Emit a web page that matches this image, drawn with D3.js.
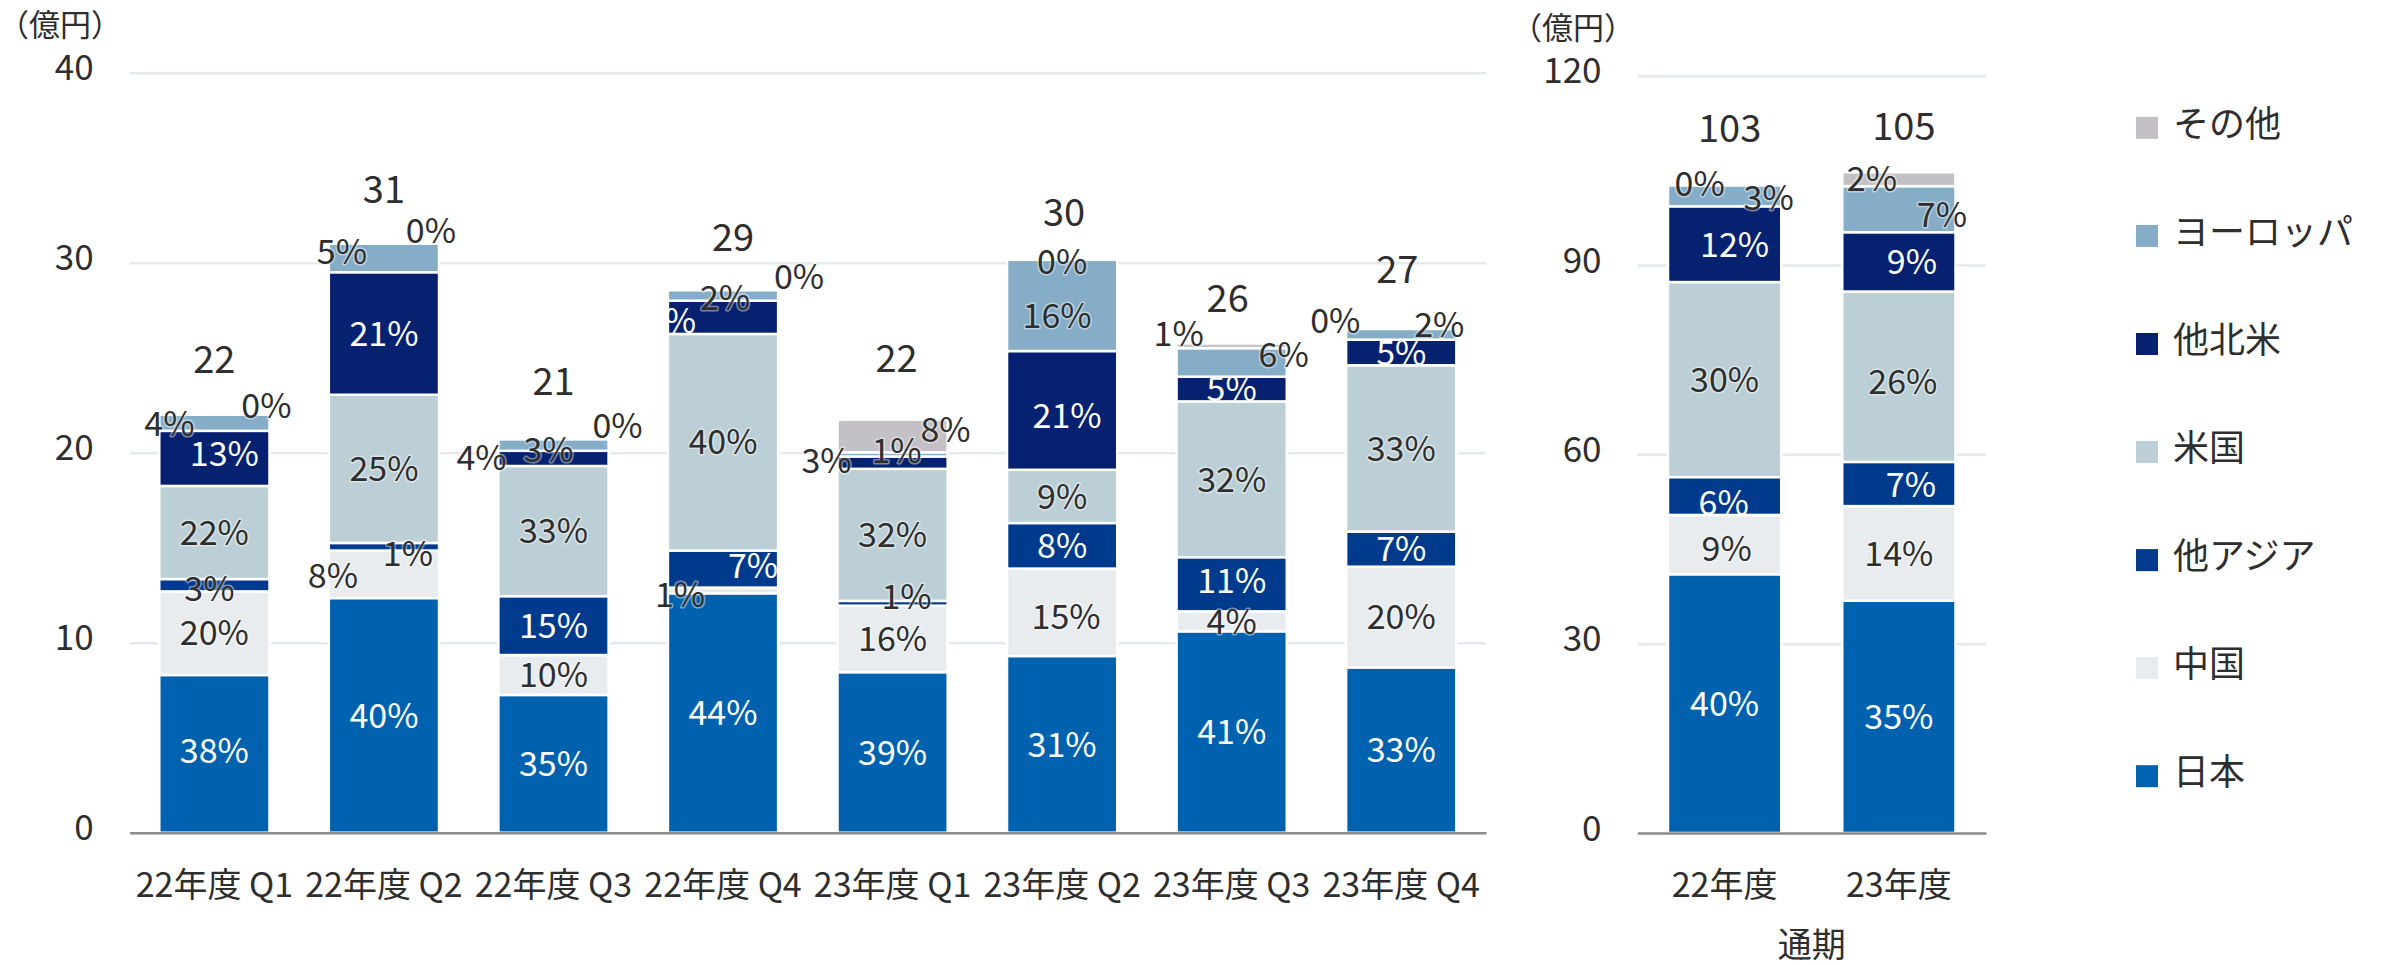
<!DOCTYPE html>
<html><head><meta charset="utf-8">
<script src="https://cdn.jsdelivr.net/npm/d3@7"></script>
<style>
html,body{margin:0;padding:0;background:#fff;}
svg{display:block;font-family:"Noto Sans CJK JP","Noto Sans",sans-serif;}
</style></head><body>
<svg id="chart" width="2389" height="964"></svg>
<script>
// ---------- DATA ----------
const regions = ["日本","中国","他アジア","米国","他北米","ヨーロッパ","その他"];
const regionColors = ["#0062AF","#E8ECEF","#003A8C","#BCCFD6","#05216F","#85ADC8","#C3C1C6"];

const quarterCats = ["22年度 Q1","22年度 Q2","22年度 Q3","22年度 Q4","23年度 Q1","23年度 Q2","23年度 Q3","23年度 Q4"];
const qJapan     = [8.3, 12.35, 7.25, 12.6, 8.45, 9.3, 10.6, 8.7];
const qChina     = [4.4, 2.5, 2.1, 0.3, 3.5, 4.6, 1.05, 5.3];
const qOtherAsia = [0.65, 0.4, 3.1, 1.95, 0.25, 2.4, 2.85, 1.85];
const qUS        = [4.9, 7.8, 6.85, 11.4, 6.95, 2.8, 8.2, 8.75];
const qOtherNA   = [2.9, 6.45, 0.8, 1.75, 0.65, 6.25, 1.3, 1.35];
const qEurope    = [0.85, 1.5, 0.6, 0.55, 0.22, 4.8, 1.5, 0.56];
const qOther     = [0, 0, 0, 0, 1.72, 0, 0.25, 0];

const fyCats      = ["22年度","23年度"];
const fyJapan     = [41.0, 36.8];
const fyChina     = [9.4, 15.0];
const fyOtherAsia = [6.0, 7.0];
const fyUS        = [30.9, 27.0];
const fyOtherNA   = [12.0, 9.4];
const fyEurope    = [3.3, 7.3];
const fyOther     = [0, 2.2];

const qTicks  = [0, 10, 20, 30, 40];
const fyTicks = [0, 30, 60, 90, 120];
const unitLabel = "（億円）";
const fyAxisTitle = "通期";

// ---------- LABEL LAYOUT (manual nudges, px) ----------
const qLabelNudge = {
 "0-0":[0,-3],"0-2":[-5,4],"0-4":[10,-5],"0-5":[-45,1],"0-6":[52,-9],
 "1-1":[-51,1],"1-2":[24,7],"1-5":[-42,-6],"1-6":[47,-13],
 "2-4":[-72,-1],"2-5":[-5,5],"2-6":[64,-14],
 "3-1":[-43,4],"3-2":[30,-3],"3-4":[-52,3],"3-5":[2,2],"3-6":[76,-13],
 "4-2":[14,-7],"4-4":[-66,-2],"4-5":[4,-4],"4-6":[53,-6],
 "5-1":[4,4],"5-4":[5,5],"5-5":[-5,10],"5-6":[0,2],
 "6-2":[0,-4],"6-5":[52,-8],"6-6":[-53,-12],
 "7-5":[38,-10],"7-6":[-66,-8]
};
const qTotalNudge = [[0,0],[0,1],[0,-3],[10,2],[4,-6],[2,7],[-4,10],[-4,-5]];
const fyLabelNudge = {"0-1":[2,4],"0-2":[-1,7],"0-4":[10,1],"0-5":[44,2],"0-6":[-25,-2],
 "1-2":[12,1],"1-3":[4,5],"1-4":[13,0],"1-5":[43,6],"1-6":[-27,0]};
const fyTotalNudge = [[5,-2],[5,9]];

// ---------- BUILD ----------
const svg = d3.select("#chart");
const TEXT = "#2e2e2e";
const darkSeries = new Set(["日本","他アジア","他北米"]);

function rowsFrom(cats, arrs){
  return cats.map((c,i)=>{
    const r = {cat:c};
    regions.forEach((k,j)=>{ r[k] = arrs[j][i]; });
    r.total = d3.sum(regions, k=>r[k]);
    return r;
  });
}

function halo(sel){
  return sel.attr("stroke","#ffffff").attr("stroke-opacity",0.45).attr("stroke-width",3)
    .attr("paint-order","stroke").attr("stroke-linejoin","round");
}

function drawPanel(opts){
  const {rows, cats, x0, x1, yTop, yBottom, ticks, labelNudge, totalNudge, unitX} = opts;
  const g = svg.append("g");
  const x = d3.scaleBand().domain(cats).range([x0, x1]).paddingInner(0.35).paddingOuter(0.175);
  const y = d3.scaleLinear().domain([ticks[0], ticks[ticks.length-1]]).range([yBottom, yTop]);

  // gridlines + tick labels
  const ya = g.append("g").attr("transform",`translate(${x0},0)`)
    .call(d3.axisLeft(y).tickValues(ticks).tickSize(-(x1-x0)).tickPadding(36));
  ya.select(".domain").remove();
  ya.selectAll(".tick line").attr("stroke","#E6EAEE").attr("stroke-width",2.5);
  ya.selectAll(".tick text").attr("fill",TEXT).attr("font-size",35)
    .attr("dy","0.2em").attr("font-family",'"Noto Sans CJK JP",sans-serif');

  // unit label
  g.append("text").attr("x",unitX).attr("y",yTop-48).attr("text-anchor","middle")
    .attr("dy","0.35em").attr("font-size",31).attr("fill",TEXT).text(unitLabel);

  const stacked = d3.stack().keys(regions)(rows);
  const bw = x.bandwidth();

  stacked.forEach((s,si)=>{
    g.append("g").selectAll("rect").data(s.filter(d=>d[1]-d[0]>0)).join("rect")
      .attr("x",d=>x(d.data.cat)).attr("width",bw)
      .attr("y",d=>y(d[1])).attr("height",d=>y(d[0])-y(d[1]))
      .attr("fill",regionColors[si]).attr("stroke","#fff").attr("stroke-width",2.5);
  });

  // baseline
  const xa = g.append("g").attr("transform",`translate(0,${yBottom})`)
    .call(d3.axisBottom(x).tickSize(0).tickSizeOuter(0).tickPadding(0));
  xa.select(".domain").attr("stroke","#8C8C8C").attr("stroke-width",2.5);
  xa.selectAll(".tick text").attr("fill",TEXT).attr("font-size",34)
    .attr("y",52).attr("dy","0.35em").attr("font-family",'"Noto Sans CJK JP",sans-serif');

  // percentage labels
  const lab = g.append("g");
  stacked.forEach((s,si)=>{
    s.forEach((d,bi)=>{
      const v = d[1]-d[0];
      const pct = Math.round(v/d.data.total*100);
      const nd = labelNudge[`${bi}-${si}`] || [0,0];
      const cx = x(d.data.cat)+bw/2+nd[0];
      const cy = (y(d[0])+y(d[1]))/2+nd[1];
      const white = darkSeries.has(regions[si]) && pct>4;
      const t = lab.append("text").attr("x",cx).attr("y",cy).attr("text-anchor","middle")
        .attr("dy","0.36em").attr("font-size",34).attr("fill",white?"#ffffff":TEXT).text(pct+"%");
      if(!white) halo(t);
    });
  });

  // totals
  rows.forEach((r,i)=>{
    const nd = totalNudge[i];
    g.append("text").attr("x",x(r.cat)+bw/2+nd[0]).attr("y",y(r.total)-55+nd[1])
      .attr("text-anchor","middle").attr("dy","0.36em").attr("font-size",38)
      .attr("fill",TEXT).text(Math.round(r.total));
  });
  return {x,y};
}

const qRows = rowsFrom(quarterCats,[qJapan,qChina,qOtherAsia,qUS,qOtherNA,qEurope,qOther]);
const fyRows = rowsFrom(fyCats,[fyJapan,fyChina,fyOtherAsia,fyUS,fyOtherNA,fyEurope,fyOther]);

drawPanel({rows:qRows,cats:quarterCats,x0:129.6,x1:1486,yTop:72.7,yBottom:832.7,ticks:qTicks,
  labelNudge:qLabelNudge,totalNudge:qTotalNudge,unitX:60});
drawPanel({rows:fyRows,cats:fyCats,x0:1637.5,x1:1986,yTop:75.7,yBottom:833,ticks:fyTicks,
  labelNudge:fyLabelNudge,totalNudge:fyTotalNudge,unitX:1573});

svg.append("text").attr("x",(1637.5+1986)/2).attr("y",945).attr("text-anchor","middle")
  .attr("dy","0.35em").attr("font-size",34).attr("fill",TEXT).text(fyAxisTitle);

// legend
const legendOrder = regions.map((r,i)=>({r,c:regionColors[i]})).reverse();
const lg = svg.append("g");
legendOrder.forEach((d,i)=>{
  const cy = 127.9 + i*108.05;
  lg.append("rect").attr("x",2136).attr("y",cy-11).attr("width",22).attr("height",22).attr("fill",d.c);
  lg.append("text").attr("x",2173).attr("y",cy-4).attr("dy","0.36em").attr("font-size",36)
    .attr("fill",TEXT).text(d.r);
});
</script>
</body></html>
